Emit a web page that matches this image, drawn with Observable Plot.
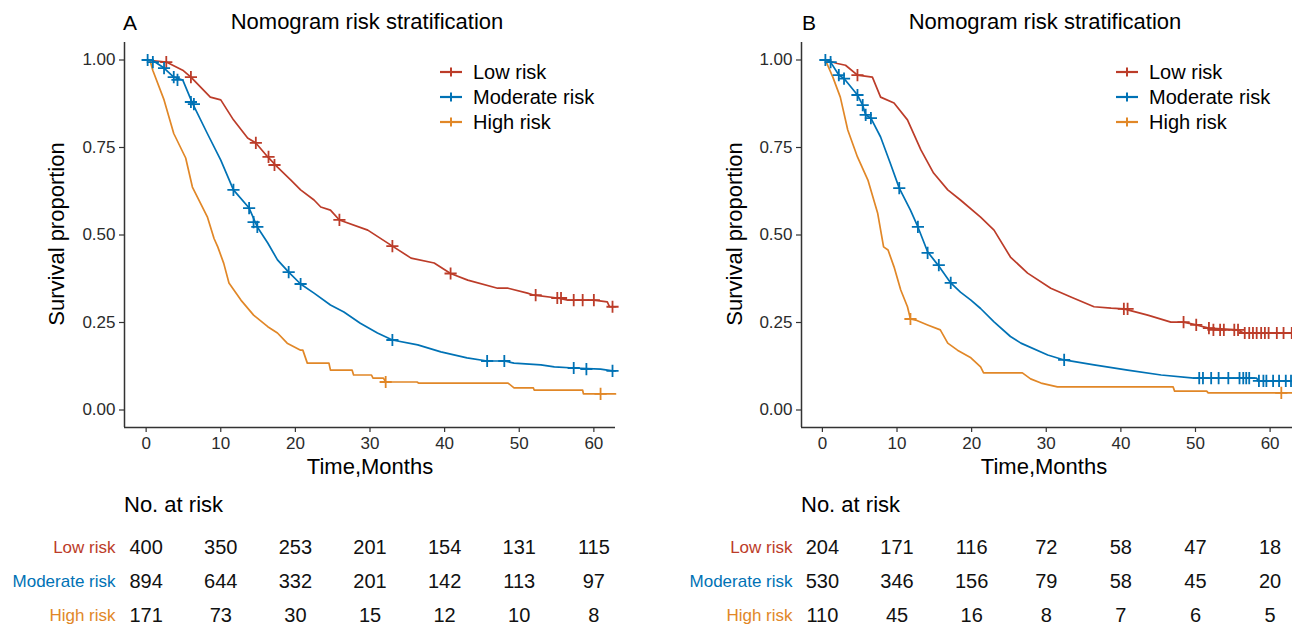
<!DOCTYPE html>
<html><head><meta charset="utf-8">
<script src="https://cdn.jsdelivr.net/npm/d3@7"></script>
<script src="https://cdn.jsdelivr.net/npm/@observablehq/plot@0.6"></script>
<style>
body{margin:0;background:#fff;}
#root{position:relative;width:1292px;height:628px;overflow:hidden;font-family:"Liberation Sans",Arial,sans-serif;color:#000;background:#fff}
.abs{position:absolute;white-space:nowrap;line-height:1}
.c{transform:translate(-50%,-50%)}
.l{transform:translate(0,-50%)}
.rot{transform:translate(-50%,-50%) rotate(-90deg)}
svg{overflow:visible}
</style></head><body><div id="root"></div>
<script>
// ---------------- data ----------------
const groups = ["Low risk", "Moderate risk", "High risk"];
const colors = ["#BC3C29", "#0072B5", "#E18727"];
const timeTicks = [0, 10, 20, 30, 40, 50, 60];
const survTicks = [0, 0.25, 0.5, 0.75, 1];

// Panel A curves [months, survival]
const A_low = [[0,1],[2.7,0.994],[4.9,0.971],[6.0,0.951],[8.6,0.894],[10,0.886],[11.7,0.829],[13.6,0.777],[14.7,0.763],[16.3,0.723],[17.6,0.694],[19.4,0.657],[20.7,0.629],[22.5,0.6],[23.4,0.58],[24.7,0.571],[25.9,0.543],[29.7,0.514],[32.8,0.471],[35.5,0.434],[38.6,0.42],[40.8,0.39],[43.1,0.371],[47.1,0.348],[48.5,0.348],[51.1,0.334],[52.0,0.328],[55.1,0.32],[56.5,0.314],[60.0,0.314],[61.8,0.309],[62.1,0.295],[62.9,0.295]];
const A_mod = [[0,1],[0.8,1.0],[2.4,0.977],[3.7,0.951],[4.9,0.943],[6.2,0.877],[8.2,0.79],[10,0.714],[11.7,0.629],[13.8,0.577],[14.9,0.523],[16.3,0.477],[17.6,0.429],[19.1,0.394],[20.7,0.36],[22.5,0.334],[24.7,0.30],[26.5,0.28],[28.7,0.248],[31,0.22],[33,0.2],[36.4,0.186],[39.5,0.166],[43,0.149],[45.7,0.14],[48,0.14],[49.3,0.134],[52.9,0.129],[54.7,0.123],[57.3,0.12],[60.9,0.117],[62.5,0.112],[62.9,0.112]];
const A_high = [[0,1],[0.5,1.0],[0.9,0.97],[2.4,0.886],[3.7,0.79],[5.3,0.72],[6.2,0.637],[8.2,0.552],[9.1,0.49],[9.6,0.466],[10.4,0.419],[11.1,0.363],[12.7,0.314],[14.4,0.271],[16.3,0.238],[17.6,0.22],[18.9,0.191],[20.7,0.171],[21.0,0.171],[21.6,0.134],[24.5,0.134],[24.7,0.114],[27.6,0.114],[27.8,0.10],[30.2,0.10],[30.4,0.091],[31.8,0.091],[32.1,0.08],[36.3,0.08],[36.5,0.077],[48.5,0.077],[49.3,0.063],[51.9,0.063],[52.0,0.057],[58.5,0.057],[58.6,0.046],[62.9,0.046]];

// Panel A censor marks
const A_low_cens = [[2.7,0.994],[6.0,0.951],[14.7,0.763],[16.4,0.723],[17.2,0.70],[25.9,0.543],[33.0,0.468],[40.8,0.39],[52.2,0.328],[55.1,0.32],[55.6,0.32],[57.3,0.314],[58.5,0.314],[60.0,0.314],[62.5,0.295]];
const A_mod_cens = [[0.2,1.0],[0.9,0.994],[2.4,0.977],[3.7,0.951],[4.2,0.943],[6.0,0.88],[6.4,0.874],[11.7,0.629],[13.8,0.577],[14.4,0.537],[14.9,0.523],[19.1,0.394],[20.7,0.36],[33,0.2],[45.7,0.14],[48,0.14],[57.3,0.12],[59,0.117],[62.5,0.112]];
const A_high_cens = [[32.1,0.08],[60.9,0.046]];

// Panel B curves
const B_low = [[0,1],[0.4,1.0],[2,0.99],[3.1,0.985],[4.7,0.957],[6.7,0.951],[7.8,0.894],[9.6,0.877],[11.4,0.829],[13.2,0.743],[14.9,0.677],[16.8,0.629],[18.5,0.6],[21.2,0.551],[23,0.514],[25.2,0.437],[27.5,0.391],[30.6,0.348],[33.3,0.323],[36.4,0.295],[38.7,0.291],[40.4,0.289],[43.6,0.271],[46.7,0.251],[48.4,0.251],[50.1,0.243],[51.8,0.234],[55.7,0.229],[56.4,0.22],[63,0.22]];
const B_mod = [[0,1],[0.4,1.0],[1.1,0.994],[2.2,0.957],[2.9,0.947],[4.7,0.9],[5.4,0.871],[5.8,0.843],[6.5,0.834],[7.8,0.78],[9.1,0.705],[10.3,0.634],[11.8,0.571],[12.8,0.523],[14.1,0.452],[15.5,0.414],[17.2,0.363],[18.5,0.337],[19.9,0.314],[21.2,0.29],[23,0.252],[25.2,0.21],[26.6,0.191],[30.2,0.157],[32.4,0.143],[36.4,0.129],[40.9,0.114],[45.4,0.10],[49.8,0.091],[58.2,0.091],[58.4,0.083],[63,0.083]];
const B_high = [[0,1],[0.4,1.0],[1.4,0.951],[2.4,0.894],[3.4,0.8],[4.7,0.723],[6.1,0.657],[7.4,0.563],[8.2,0.466],[8.8,0.457],[9.6,0.409],[10.5,0.343],[11.4,0.295],[11.8,0.26],[12.5,0.257],[14.1,0.243],[15.8,0.229],[16.8,0.191],[18.1,0.171],[19.9,0.149],[21.2,0.123],[21.6,0.106],[26.8,0.106],[27.9,0.089],[29.3,0.077],[31.5,0.066],[47,0.066],[47.2,0.054],[51.5,0.054],[51.7,0.049],[63,0.049]];

// Panel B censor marks
const B_low_cens = [[4.7,0.957],[40.4,0.289],[40.9,0.289],[48.4,0.251],[50.1,0.243],[51.8,0.234],[52.4,0.229],[53.3,0.229],[53.8,0.229],[55.2,0.229],[55.7,0.229],[56.6,0.22],[57.2,0.22],[57.7,0.22],[58.2,0.22],[58.8,0.22],[59.3,0.22],[59.8,0.22],[60.9,0.22],[61.8,0.22],[62.9,0.22]];
const B_mod_cens = [[0.4,1.0],[1.1,0.994],[2.2,0.957],[2.9,0.947],[4.7,0.9],[5.4,0.871],[5.8,0.843],[6.5,0.834],[10.3,0.634],[12.8,0.523],[14.1,0.449],[15.6,0.414],[17.2,0.363],[32.4,0.143],[50.5,0.091],[51.0,0.091],[52.1,0.091],[53.1,0.091],[54.4,0.091],[55.9,0.091],[56.4,0.091],[56.8,0.091],[57.2,0.091],[58.5,0.083],[59.1,0.083],[59.5,0.083],[60.4,0.083],[61.2,0.083],[62.1,0.083],[62.8,0.083]];
const B_high_cens = [[11.8,0.26],[61.5,0.049]];

// Numbers at risk (at 0,10,...,60 months)
const A_risk_low = [400, 350, 253, 201, 154, 131, 115];
const A_risk_mod = [894, 644, 332, 201, 142, 113, 97];
const A_risk_high = [171, 73, 30, 15, 12, 10, 8];
const B_risk_low = [204, 171, 116, 72, 58, 47, 18];
const B_risk_mod = [530, 346, 156, 79, 58, 45, 20];
const B_risk_high = [110, 45, 16, 8, 7, 6, 5];

// ---------------- build ----------------
const FONT = '"Liberation Sans", Arial, sans-serif';
const root = document.getElementById("root");

function toRows(series) {
  const out = [];
  series.forEach((arr, i) => arr.forEach(([t, s]) => out.push({group: groups[i], t, s})));
  return out;
}

function survPlot(curves, cens, xDomain, width, marginRight) {
  const lines = toRows(curves);
  const marks = toRows(cens);
  return Plot.plot({
    width, height: 460,
    marginLeft: 124, marginRight, marginTop: 42, marginBottom: 33,
    style: {fontFamily: FONT, background: "transparent", overflow: "visible"},
    x: {domain: xDomain},
    y: {domain: [-0.05, 1.05]},
    color: {domain: groups, range: colors},
    marks: [
      Plot.axisX({ticks: timeTicks, tickSize: 5, tickPadding: 4, fontSize: 17, fill: "#2b2b2b", stroke: "#333", strokeWidth: 1.2, label: null}),
      Plot.axisY({ticks: survTicks, tickSize: 5, tickPadding: 4, tickFormat: d3.format(".2f"), fontSize: 17, fill: "#2b2b2b", stroke: "#333", strokeWidth: 1.2, label: null}),
      Plot.ruleX([xDomain[0]], {stroke: "#333", strokeWidth: 1.5}),
      Plot.ruleY([-0.05], {stroke: "#333", strokeWidth: 1.5}),
      Plot.line(lines, {x: "t", y: "s", z: "group", stroke: "group", strokeWidth: 1.7}),
      Plot.dot(marks, {x: "t", y: "s", stroke: "group", symbol: "plus", r: 4, strokeWidth: 1.8})
    ]
  });
}

function riskPlot(counts, xDomain, width, marginRight) {
  const rows = [];
  counts.forEach((arr, i) => arr.forEach((n, j) => rows.push({group: groups[i], t: timeTicks[j], n: String(n)})));
  return Plot.plot({
    width, height: 148,
    marginLeft: 124, marginRight, marginTop: 67, marginBottom: 13,
    style: {fontFamily: FONT, background: "transparent", overflow: "visible"},
    x: {domain: xDomain, axis: null},
    y: {domain: groups, type: "point", padding: 0, axis: null},
    color: {domain: groups, range: colors},
    marks: [
      Plot.text(rows, {x: "t", y: "group", text: "n", fontSize: 20, fill: "#111"}),
      Plot.text(groups, {y: d => d, text: d => d, frameAnchor: "left", dx: -9, textAnchor: "end", fill: d => d, fontSize: 17})
    ]
  });
}

function place(el, left, top) {
  el.style.position = "absolute";
  el.style.left = left + "px";
  el.style.top = top + "px";
  root.appendChild(el);
}

function label(text, x, y, size, cls, color) {
  const d = document.createElement("div");
  d.className = "abs " + cls;
  d.textContent = text;
  d.style.left = x + "px";
  d.style.top = y + "px";
  d.style.fontSize = size + "px";
  if (color) d.style.color = color;
  root.appendChild(d);
}

function legend(markX, textX) {
  const ys = [72, 97, 122];
  groups.forEach((g, i) => {
    const ns = "http://www.w3.org/2000/svg";
    const s = document.createElementNS(ns, "svg");
    s.setAttribute("width", 24); s.setAttribute("height", 12);
    s.style.position = "absolute";
    s.style.left = (markX - 12) + "px";
    s.style.top = (ys[i] - 6) + "px";
    const l1 = document.createElementNS(ns, "line");
    l1.setAttribute("x1", 1); l1.setAttribute("x2", 23); l1.setAttribute("y1", 6); l1.setAttribute("y2", 6);
    l1.setAttribute("stroke", colors[i]); l1.setAttribute("stroke-width", 2.2);
    const l2 = document.createElementNS(ns, "line");
    l2.setAttribute("x1", 12); l2.setAttribute("x2", 12); l2.setAttribute("y1", 1.5); l2.setAttribute("y2", 10.5);
    l2.setAttribute("stroke", colors[i]); l2.setAttribute("stroke-width", 2);
    s.appendChild(l1); s.appendChild(l2);
    root.appendChild(s);
    label(g, textX, ys[i], 20, "l");
  });
}

const xA = [-2.9, 62.9];
const xB = [-2.8, 63.0];

place(survPlot([A_low, A_mod, A_high], [A_low_cens, A_mod_cens, A_high_cens], xA, 646, 31), 0, 0);
place(survPlot([B_low, B_mod, B_high], [B_low_cens, B_mod_cens, B_high_cens], xB, 615, 0), 677, 0);
place(riskPlot([A_risk_low, A_risk_mod, A_risk_high], xA, 646, 31), 0, 480);
place(riskPlot([B_risk_low, B_risk_mod, B_risk_high], xB, 615, 0), 677, 480);

// titles and axis labels
label("A", 123, 22, 21, "l");
label("Nomogram risk stratification", 367, 22, 22, "c");
label("B", 802, 22, 21, "l");
label("Nomogram risk stratification", 1045, 22, 22, "c");
label("Survival proportion", 57, 234, 22, "rot");
label("Survival proportion", 735, 234, 22, "rot");
label("Time,Months", 370, 467, 22, "c");
label("Time,Months", 1044, 467, 22, "c");
label("No. at risk", 124, 505, 22, "l");
label("No. at risk", 801, 505, 22, "l");
legend(451, 473);
legend(1127, 1149);
</script></body></html>
